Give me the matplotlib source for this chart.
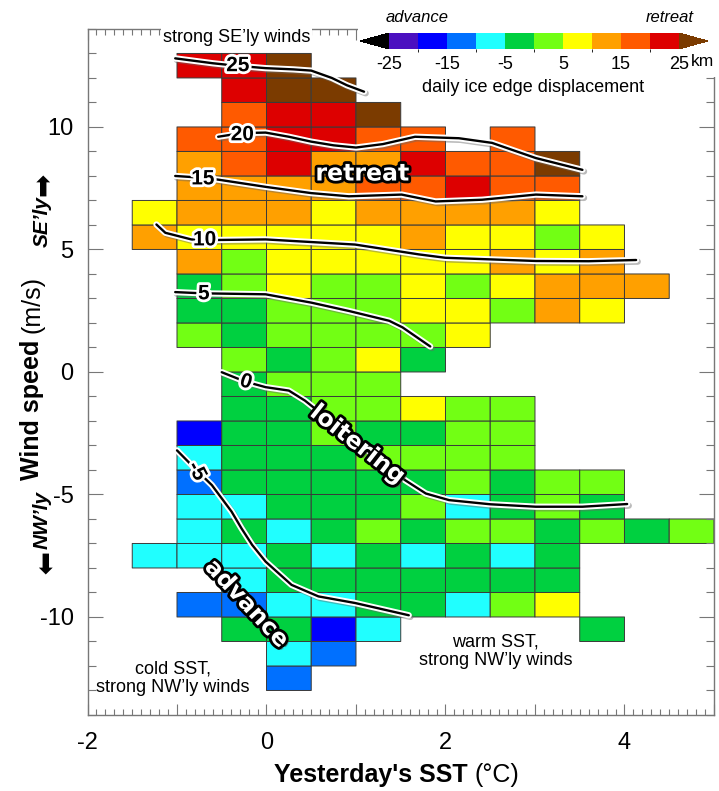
import numpy as np
import matplotlib
matplotlib.use('Agg')
import matplotlib.pyplot as plt
import matplotlib.patheffects as pe
from matplotlib.colors import ListedColormap, BoundaryNorm
from matplotlib.ticker import MultipleLocator, FuncFormatter
from matplotlib.patches import Rectangle

n = np.nan

# bin edges: yesterday's SST (deg C) and wind speed (m/s)
sst_edges = [-1.5, -1.0, -0.5, 0.0, 0.5, 1.0, 1.5, 2.0, 2.5, 3.0, 3.5, 4.0, 4.5, 5.0]
wind_edges = [-13, -12, -11, -10, -9, -8, -7, -6, -5, -4, -3, -2, -1, 0,
              1, 2, 3, 4, 5, 6, 7, 8, 9, 10, 11, 12, 13]

# mean daily ice edge displacement (km), one row per wind bin (bottom -> top)
displacement = [
    [n, n, n, -12.5, n, n, n, n, n, n, n, n, n],                       # -13
    [n, n, n, -7.5, -12.5, n, n, n, n, n, n, n, n],                    # -12
    [n, n, -2.5, -2.5, -17.5, -7.5, n, n, n, n, -2.5, n, n],           # -11
    [n, -12.5, -12.5, -7.5, -7.5, -2.5, -2.5, -7.5, 2.5, 7.5, n, n, n],  # -10
    [n, n, -7.5, -2.5, -2.5, -2.5, -2.5, -2.5, -2.5, -2.5, n, n, n],   # -9
    [-7.5, -7.5, -7.5, -2.5, -7.5, -2.5, -7.5, -2.5, -7.5, -2.5, n, n, n],  # -8
    [n, -7.5, -2.5, -7.5, -2.5, 2.5, -2.5, 2.5, 2.5, -2.5, 2.5, -2.5, 2.5],  # -7
    [n, -7.5, -7.5, -2.5, -2.5, -2.5, 2.5, -7.5, -2.5, 2.5, -2.5, n, n],  # -6
    [n, -12.5, -2.5, -2.5, -2.5, -2.5, -2.5, 2.5, -2.5, 2.5, 2.5, n, n],  # -5
    [n, -7.5, -2.5, -2.5, -2.5, 2.5, 2.5, 2.5, 2.5, n, n, n, n],       # -4
    [n, -17.5, -2.5, -2.5, 2.5, -2.5, -2.5, 2.5, 2.5, n, n, n, n],     # -3
    [n, n, -2.5, -2.5, 2.5, 2.5, 7.5, 2.5, 2.5, n, n, n, n],           # -2
    [n, n, -2.5, 2.5, 2.5, 2.5, n, n, n, n, n, n, n],                  # -1
    [n, n, 2.5, -2.5, 2.5, 7.5, -2.5, n, n, n, n, n, n],               # 0
    [n, 2.5, -2.5, 2.5, 2.5, 2.5, 2.5, 7.5, n, n, n, n, n],            # 1
    [n, -2.5, -2.5, 2.5, 2.5, 2.5, 7.5, 7.5, 2.5, 12.5, 7.5, n, n],    # 2
    [n, -2.5, 2.5, 7.5, 2.5, 2.5, 7.5, 2.5, 7.5, 12.5, 12.5, 12.5, n],  # 3
    [n, 12.5, 2.5, 7.5, 7.5, 7.5, 7.5, 7.5, 12.5, 7.5, 12.5, n, n],    # 4
    [12.5, 7.5, 7.5, 7.5, 7.5, 7.5, 12.5, 7.5, 7.5, 2.5, 7.5, n, n],   # 5
    [7.5, 12.5, 12.5, 12.5, 7.5, 12.5, 12.5, 12.5, 12.5, 7.5, n, n, n],  # 6
    [n, 12.5, 12.5, 12.5, 12.5, 17.5, 17.5, 22.5, 17.5, 17.5, n, n, n],  # 7
    [n, 12.5, 17.5, 22.5, 12.5, 12.5, 22.5, 17.5, 17.5, 27.5, n, n, n],  # 8
    [n, 17.5, 17.5, 22.5, 22.5, 17.5, 17.5, n, 17.5, n, n, n, n],      # 9
    [n, n, 17.5, 22.5, 22.5, 27.5, n, n, n, n, n, n, n],               # 10
    [n, n, 22.5, 27.5, 27.5, n, n, n, n, n, n, n, n],                  # 11
    [n, 22.5, 22.5, 27.5, n, n, n, n, n, n, n, n, n],                  # 12
]

# colour classes of the displacement scale
levels = [-25, -20, -15, -10, -5, 0, 5, 10, 15, 20, 25]
class_colors = ['#4b10c0', '#0000ff', '#0070ff', '#20ffff', '#00d040',
                '#72ff14', '#ffff00', '#ffa000', '#ff5a00', '#dd0000']
under_color = '#000000'
over_color = '#7b3b00'
cbar_ticks = [-25, -15, -5, 5, 15, 25]

# smoothed displacement contours
c25_x = [-1.02, -0.6, -0.34, -0.01, 0.3, 0.5, 0.73, 0.9, 1.09]
c25_y = [12.8, 12.6, 12.5, 12.4, 12.35, 12.3, 12.0, 11.7, 11.44]
c20_x = [-0.54, -0.28, -0.01, 0.25, 0.5, 0.75, 1.0, 1.3, 1.66, 2.15, 2.52, 3.01, 3.53]
c20_y = [9.6, 9.75, 9.77, 9.6, 9.4, 9.25, 9.16, 9.3, 9.6, 9.54, 9.35, 8.73, 8.25]
c15_x = [-1.02, -0.73, -0.54, 0.0, 0.5, 0.92, 1.51, 1.89, 2.41, 3.01, 3.53]
c15_y = [8.0, 7.93, 7.85, 7.55, 7.3, 7.17, 7.24, 6.96, 7.03, 7.24, 7.17]
c10_x = [-1.23, -1.13, -0.84, -0.71, -0.01, 0.99, 1.7, 2.0, 3.01, 3.6, 4.13]
c10_y = [6.02, 5.68, 5.41, 5.38, 5.41, 5.2, 4.8, 4.66, 4.53, 4.52, 4.57]
c5_x = [-1.02, -0.72, -0.01, 0.5, 0.92, 1.37, 1.52, 1.83]
c5_y = [3.26, 3.21, 3.17, 2.83, 2.49, 2.09, 1.82, 1.04]
c0_x = [-0.5, -0.24, -0.01, 0.25, 0.43, 1.55, 1.78, 2.04, 2.5, 3.01, 3.53, 4.03]
c0_y = [-0.01, -0.39, -0.62, -0.76, -1.17, -4.42, -4.96, -5.23, -5.4, -5.5, -5.5, -5.39]
cm5_x = [-1.0, -0.8, -0.61, -0.39, -0.28, -0.16, -0.01, 0.28, 0.58, 0.99, 1.59]
cm5_y = [-3.2, -3.94, -4.62, -5.7, -6.38, -7.06, -7.74, -8.69, -9.16, -9.43, -9.93]

contour_lines = [(c25_x, c25_y), (c20_x, c20_y), (c15_x, c15_y), (c10_x, c10_y),
                 (c5_x, c5_y), (c0_x, c0_y), (cm5_x, cm5_y)]
contour_labels = ['25', '20', '15', '10', '5', '0', '-5']
label_pos = [(-0.32, 12.5), (-0.27, 9.68), (-0.71, 7.88), (-0.69, 5.39),
             (-0.70, 3.19), (-0.23, -0.41), (-0.78, -4.05)]
label_rot = [0, 0, 0, 0, 0, -18, -62]

plt.rcParams['font.family'] = ['Liberation Sans', 'DejaVu Sans']
plt.rcParams['axes.unicode_minus'] = False

fig = plt.figure(figsize=(7.19, 7.91), dpi=100)
ax = fig.add_axes([0.1217, 0.0961, 0.8713, 0.8673])
ax.set_zorder(1)

cmap = ListedColormap(class_colors)
cmap.set_under(under_color)
cmap.set_over(over_color)
norm = BoundaryNorm(levels, cmap.N)

grid = np.ma.masked_invalid(np.array(displacement))
ax.pcolor(sst_edges, wind_edges, grid, cmap=cmap, norm=norm,
          edgecolors='#3a3a3a', linewidth=0.7)

line_fx = [pe.SimpleLineShadow(offset=(1.2, -1.2), shadow_color='#666666', alpha=0.45, linewidth=4.5),
           pe.Stroke(linewidth=4.5, foreground='white'), pe.Normal()]
for (cx, cy) in contour_lines:
    ax.plot(cx, cy, color='black', lw=1.7, solid_capstyle='round',
            solid_joinstyle='round', path_effects=line_fx, zorder=4)

label_fx = [pe.Stroke(linewidth=4, foreground='white'), pe.Normal()]
for lab, (lx, ly), rot in zip(contour_labels, label_pos, label_rot):
    ax.text(lx, ly, lab, fontsize=15, fontweight='bold', color='black',
            ha='center', va='center', rotation=rot, path_effects=label_fx, zorder=5)

word_fx = [pe.withSimplePatchShadow(offset=(2, -2), shadow_rgbFace='#555555', alpha=0.6),
           pe.Stroke(linewidth=4, foreground='black'), pe.Normal()]
ax.text(1.07, 8.1, 'retreat', fontsize=17, fontweight='bold', color='white',
        ha='center', va='center', path_effects=word_fx, zorder=6, family='DejaVu Sans')
ax.text(1.02, -2.95, 'loitering', fontsize=17, fontweight='bold', color='white',
        ha='center', va='center', rotation=-38, path_effects=word_fx, zorder=6,
        family='DejaVu Sans')
ax.text(-0.22, -9.45, 'advance', fontsize=17, fontweight='bold', color='white',
        ha='center', va='center', rotation=-47, path_effects=word_fx, zorder=6,
        family='DejaVu Sans')

ax.text(-0.33, 13.65, 'strong SE\u2019ly winds', fontsize=13, ha='center', va='center',
        bbox=dict(boxstyle='square,pad=0.1', fc='white', ec='none'), zorder=7)
ax.text(-1.05, -12.5, 'cold SST,\nstrong NW\u2019ly winds', fontsize=13,
        ha='center', va='center', linespacing=1.1, zorder=7)
ax.text(2.56, -11.4, 'warm SST,\nstrong NW\u2019ly winds', fontsize=13,
        ha='center', va='center', linespacing=1.1, zorder=7)

ax.set_xlim(-2, 5)
ax.set_ylim(-14, 14)
ax.xaxis.set_major_locator(MultipleLocator(1))
ax.xaxis.set_minor_locator(MultipleLocator(0.1))
ax.xaxis.set_major_formatter(FuncFormatter(lambda v, p: '%d' % v if round(v) % 2 == 0 else ''))
ax.yaxis.set_major_locator(MultipleLocator(5))
ax.yaxis.set_minor_locator(MultipleLocator(1))
ax.tick_params(which='both', direction='in', top=True, right=True,
               color='#777777', labelsize=17, width=0.8)
ax.xaxis.set_tick_params(which='major', length=8, pad=12)
ax.xaxis.set_tick_params(which='minor', length=4)
ax.yaxis.set_tick_params(which='major', length=11, pad=10)
ax.yaxis.set_tick_params(which='minor', length=6)
for s in ax.spines.values():
    s.set_color('#777777')
    s.set_linewidth(1.0)

# axis titles: bold part + regular units
fig.text(468 / 719, 1 - 775 / 791, "Yesterday's SST", fontsize=18, fontweight='bold',
         ha='right', va='center')
fig.text(475 / 719, 1 - 775 / 791, '(\u00b0C)', fontsize=18, ha='left', va='center')
fig.text(32 / 719, 1 - 340 / 791, 'Wind speed', fontsize=18, fontweight='bold',
         rotation=90, rotation_mode='anchor', ha='right', va='center')
fig.text(32 / 719, 1 - 333 / 791, '(m/s)', fontsize=18,
         rotation=90, rotation_mode='anchor', ha='left', va='center')
fig.text(42 / 719, 1 - 222 / 791, 'SE\u2019ly', fontsize=15, fontweight='bold',
         style='italic', rotation=90, ha='center', va='center')
fig.text(43 / 719, 1 - 184 / 791, '\u27a1', fontsize=20, rotation=90,
         ha='center', va='center', family='DejaVu Sans')
fig.text(42 / 719, 1 - 520 / 791, 'NW\u2019ly', fontsize=15, fontweight='bold',
         style='italic', rotation=90, ha='center', va='center')
fig.text(43 / 719, 1 - 564 / 791, '\u27a1', fontsize=20, rotation=-90,
         ha='center', va='center', family='DejaVu Sans')

# colour scale in a white box over the top right corner
fig.patches.append(Rectangle((358 / 719, 1 - 77 / 791), 0.6, 0.2, transform=fig.transFigure,
                             facecolor='white', edgecolor='none', zorder=2))
cax = fig.add_axes([360 / 719, 1 - 49 / 791, 348 / 719, 16 / 791])
cax.set_zorder(3)
sm = plt.cm.ScalarMappable(cmap=cmap, norm=norm)
cb = fig.colorbar(sm, cax=cax, orientation='horizontal', extend='both',
                  extendfrac=0.1, ticks=cbar_ticks, drawedges=False)
cb.outline.set_visible(False)
cax.tick_params(length=0, labelsize=13, pad=5)
fig.text(703 / 719, 1 - 62 / 791, 'km', fontsize=12.5, ha='center', va='center', zorder=4)
fig.text(533 / 719, 1 - 87 / 791, 'daily ice edge displacement', fontsize=13,
         ha='center', va='center', zorder=4)
fig.text(417 / 719, 1 - 17 / 791, 'advance', fontsize=12, style='italic',
         ha='center', va='center', zorder=4)
fig.text(670 / 719, 1 - 17 / 791, 'retreat', fontsize=12, style='italic',
         ha='center', va='center', zorder=4)

fig.savefig('out.png', dpi=100)
